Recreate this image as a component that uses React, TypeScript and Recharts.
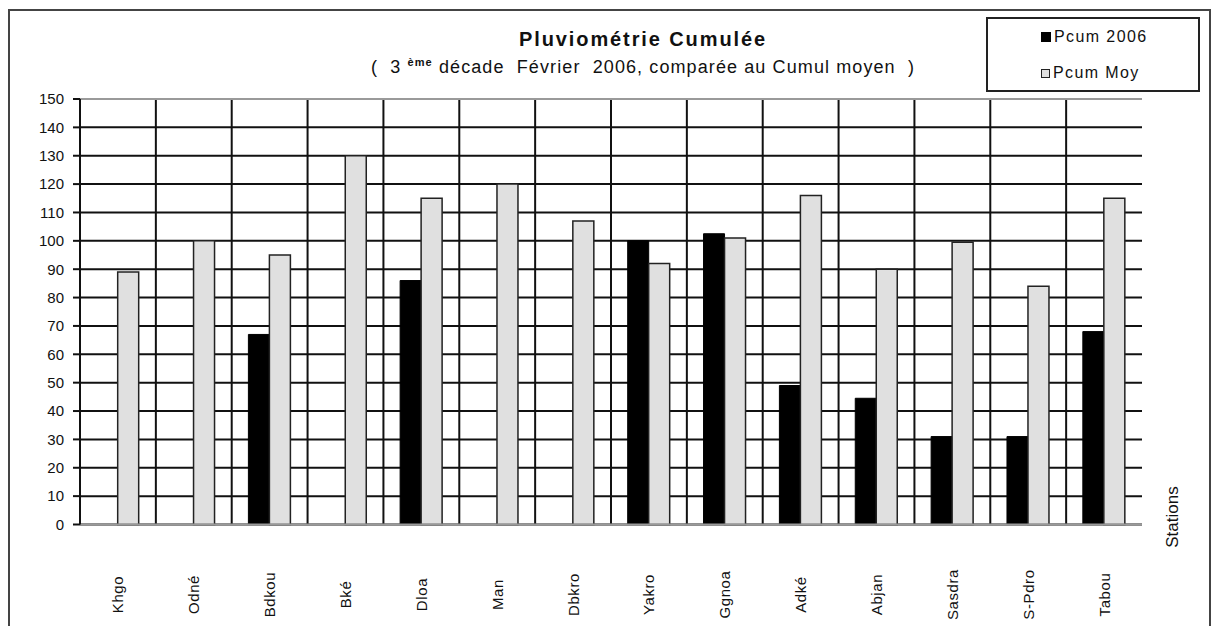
import React from "react";
import {
  BarChart,
  Bar,
  XAxis,
  YAxis,
  CartesianGrid,
  Legend,
  ReferenceLine,
} from "recharts";

const stations = [
  "Khgo",
  "Odné",
  "Bdkou",
  "Bké",
  "Dloa",
  "Man",
  "Dbkro",
  "Yakro",
  "Ggnoa",
  "Adké",
  "Abjan",
  "Sasdra",
  "S-Pdro",
  "Tabou",
];
const pcum2006 = [0, 0, 67, 0, 86, 0, 0, 100, 102.5, 49, 44.5, 31, 31, 68];
const pcumMoy = [89, 100, 95, 130, 115, 120, 107, 92, 101, 116, 90, 99.5, 84, 115];
const yTicks = [0, 10, 20, 30, 40, 50, 60, 70, 80, 90, 100, 110, 120, 130, 140, 150];

const data = stations.map((name, i) => ({
  name,
  pcum2006: pcum2006[i],
  pcumMoy: pcumMoy[i],
}));

const FONT = "'Liberation Sans', Arial, sans-serif";
const GREY_BAR = "#e0e0e0";
const EDGE = "#9a9a9a";

const StationTick = ({ x, y, payload }: any) => {
  const cy = y + 70;
  return (
    <text
      x={x}
      y={cy}
      transform={`rotate(-90, ${x}, ${cy})`}
      textAnchor="middle"
      dominantBaseline="central"
      fontSize={15}
      fontFamily={FONT}
      fill="#111"
      letterSpacing={0.6}
    >
      {payload.value}
    </text>
  );
};

const StationsLabel = ({ viewBox }: any) => {
  const x = viewBox.x + viewBox.width + 30;
  const y = 517;
  return (
    <text
      x={x}
      y={y}
      transform={`rotate(-90, ${x}, ${y})`}
      textAnchor="middle"
      dominantBaseline="central"
      fontSize={17}
      fontFamily={FONT}
      fill="#111"
    >
      Stations
    </text>
  );
};

const LegendBox = () => (
  <div
    style={{
      width: "100%",
      height: "100%",
      boxSizing: "border-box",
      border: "2px solid #222",
      fontFamily: FONT,
      fontSize: 16,
      color: "#111",
      letterSpacing: 1.4,
      background: "#fff",
    }}
  >
    <div style={{ position: "absolute", left: 55, top: 11, display: "flex", alignItems: "center" }}>
      <span style={{ width: 8, height: 8, background: "#000", border: "1px solid #000", marginRight: 3 }} />
      Pcum 2006
    </div>
    <div style={{ position: "absolute", left: 55, top: 47, display: "flex", alignItems: "center" }}>
      <span
        style={{
          width: 7,
          height: 7,
          background: GREY_BAR,
          border: "1px solid #222",
          marginRight: 3,
        }}
      />
      Pcum Moy
    </div>
  </div>
);

export default function App() {
  return (
    <div
      style={{
        position: "relative",
        width: 1215,
        height: 626,
        overflow: "hidden",
        background: "#fff",
      }}
    >
      <style>{`body{margin:0;overflow:hidden}`}</style>
      <div
        style={{
          position: "absolute",
          left: 8,
          top: 9,
          width: 1203,
          height: 700,
          boxSizing: "border-box",
          borderTop: "2px solid #444",
          borderLeft: "2px solid #444",
          borderRight: "2px solid #444",
        }}
      />
      <div
        style={{
          position: "absolute",
          left: 0,
          width: 1286,
          top: 28,
          textAlign: "center",
          fontFamily: FONT,
          fontWeight: "bold",
          fontSize: 20,
          letterSpacing: 1.9,
          color: "#111",
        }}
      >
        Pluviométrie Cumulée
      </div>
      <div
        style={{
          position: "absolute",
          left: 0,
          width: 1286,
          top: 56,
          textAlign: "center",
          fontFamily: FONT,
          fontSize: 18,
          letterSpacing: 1.1,
          whiteSpace: "pre",
          color: "#111",
        }}
      >
        {"(  3 "}
        <sup style={{ fontSize: 11, fontWeight: "bold" }}>ème</sup>
        {" décade  Février  2006, comparée au Cumul moyen  )"}
      </div>
      <div style={{ position: "absolute", left: 0, top: 0 }}>
        <BarChart
          width={1215}
          height={626}
          data={data}
          margin={{ top: 99, right: 73, left: 20, bottom: 6.5 }}
          barCategoryGap="22%"
          barGap={0}
        >
          <CartesianGrid
            stroke="#111"
            strokeWidth={2}
            verticalCoordinatesGenerator={({ offset }: any) =>
              stations.slice(1).map((_, i) => offset.left + ((i + 1) * offset.width) / stations.length)
            }
          />
          <XAxis
            dataKey="name"
            interval={0}
            tickLine={false}
            tickSize={0}
            tickMargin={0}
            height={95}
            axisLine={{ stroke: EDGE, strokeWidth: 2 }}
            tick={<StationTick />}
            label={<StationsLabel />}
          />
          <YAxis
            domain={[0, 150]}
            ticks={yTicks}
            interval={0}
            width={60}
            tickSize={7}
            tickMargin={9}
            axisLine={{ stroke: "#111", strokeWidth: 2 }}
            tickLine={{ stroke: "#111", strokeWidth: 2 }}
            tick={{ fontSize: 15, fontFamily: FONT, fill: "#111" }}
          />
          <YAxis
            yAxisId="right"
            orientation="right"
            domain={[0, 150]}
            width={0}
            tick={false}
            tickLine={false}
            axisLine={{ stroke: EDGE, strokeWidth: 2 }}
          />
          <ReferenceLine y={150} stroke={EDGE} strokeWidth={2} />
          <Legend
            layout="horizontal"
            verticalAlign="middle"
            content={<LegendBox />}
            wrapperStyle={{ left: 986, top: 17, width: 214, height: 75 }}
          />
          <Bar dataKey="pcum2006" name="Pcum 2006" fill="#000" stroke="#000" isAnimationActive={false} />
          <Bar
            dataKey="pcumMoy"
            name="Pcum Moy"
            fill={GREY_BAR}
            stroke="#222"
            strokeWidth={1.5}
            isAnimationActive={false}
          />
        </BarChart>
      </div>
    </div>
  );
}
